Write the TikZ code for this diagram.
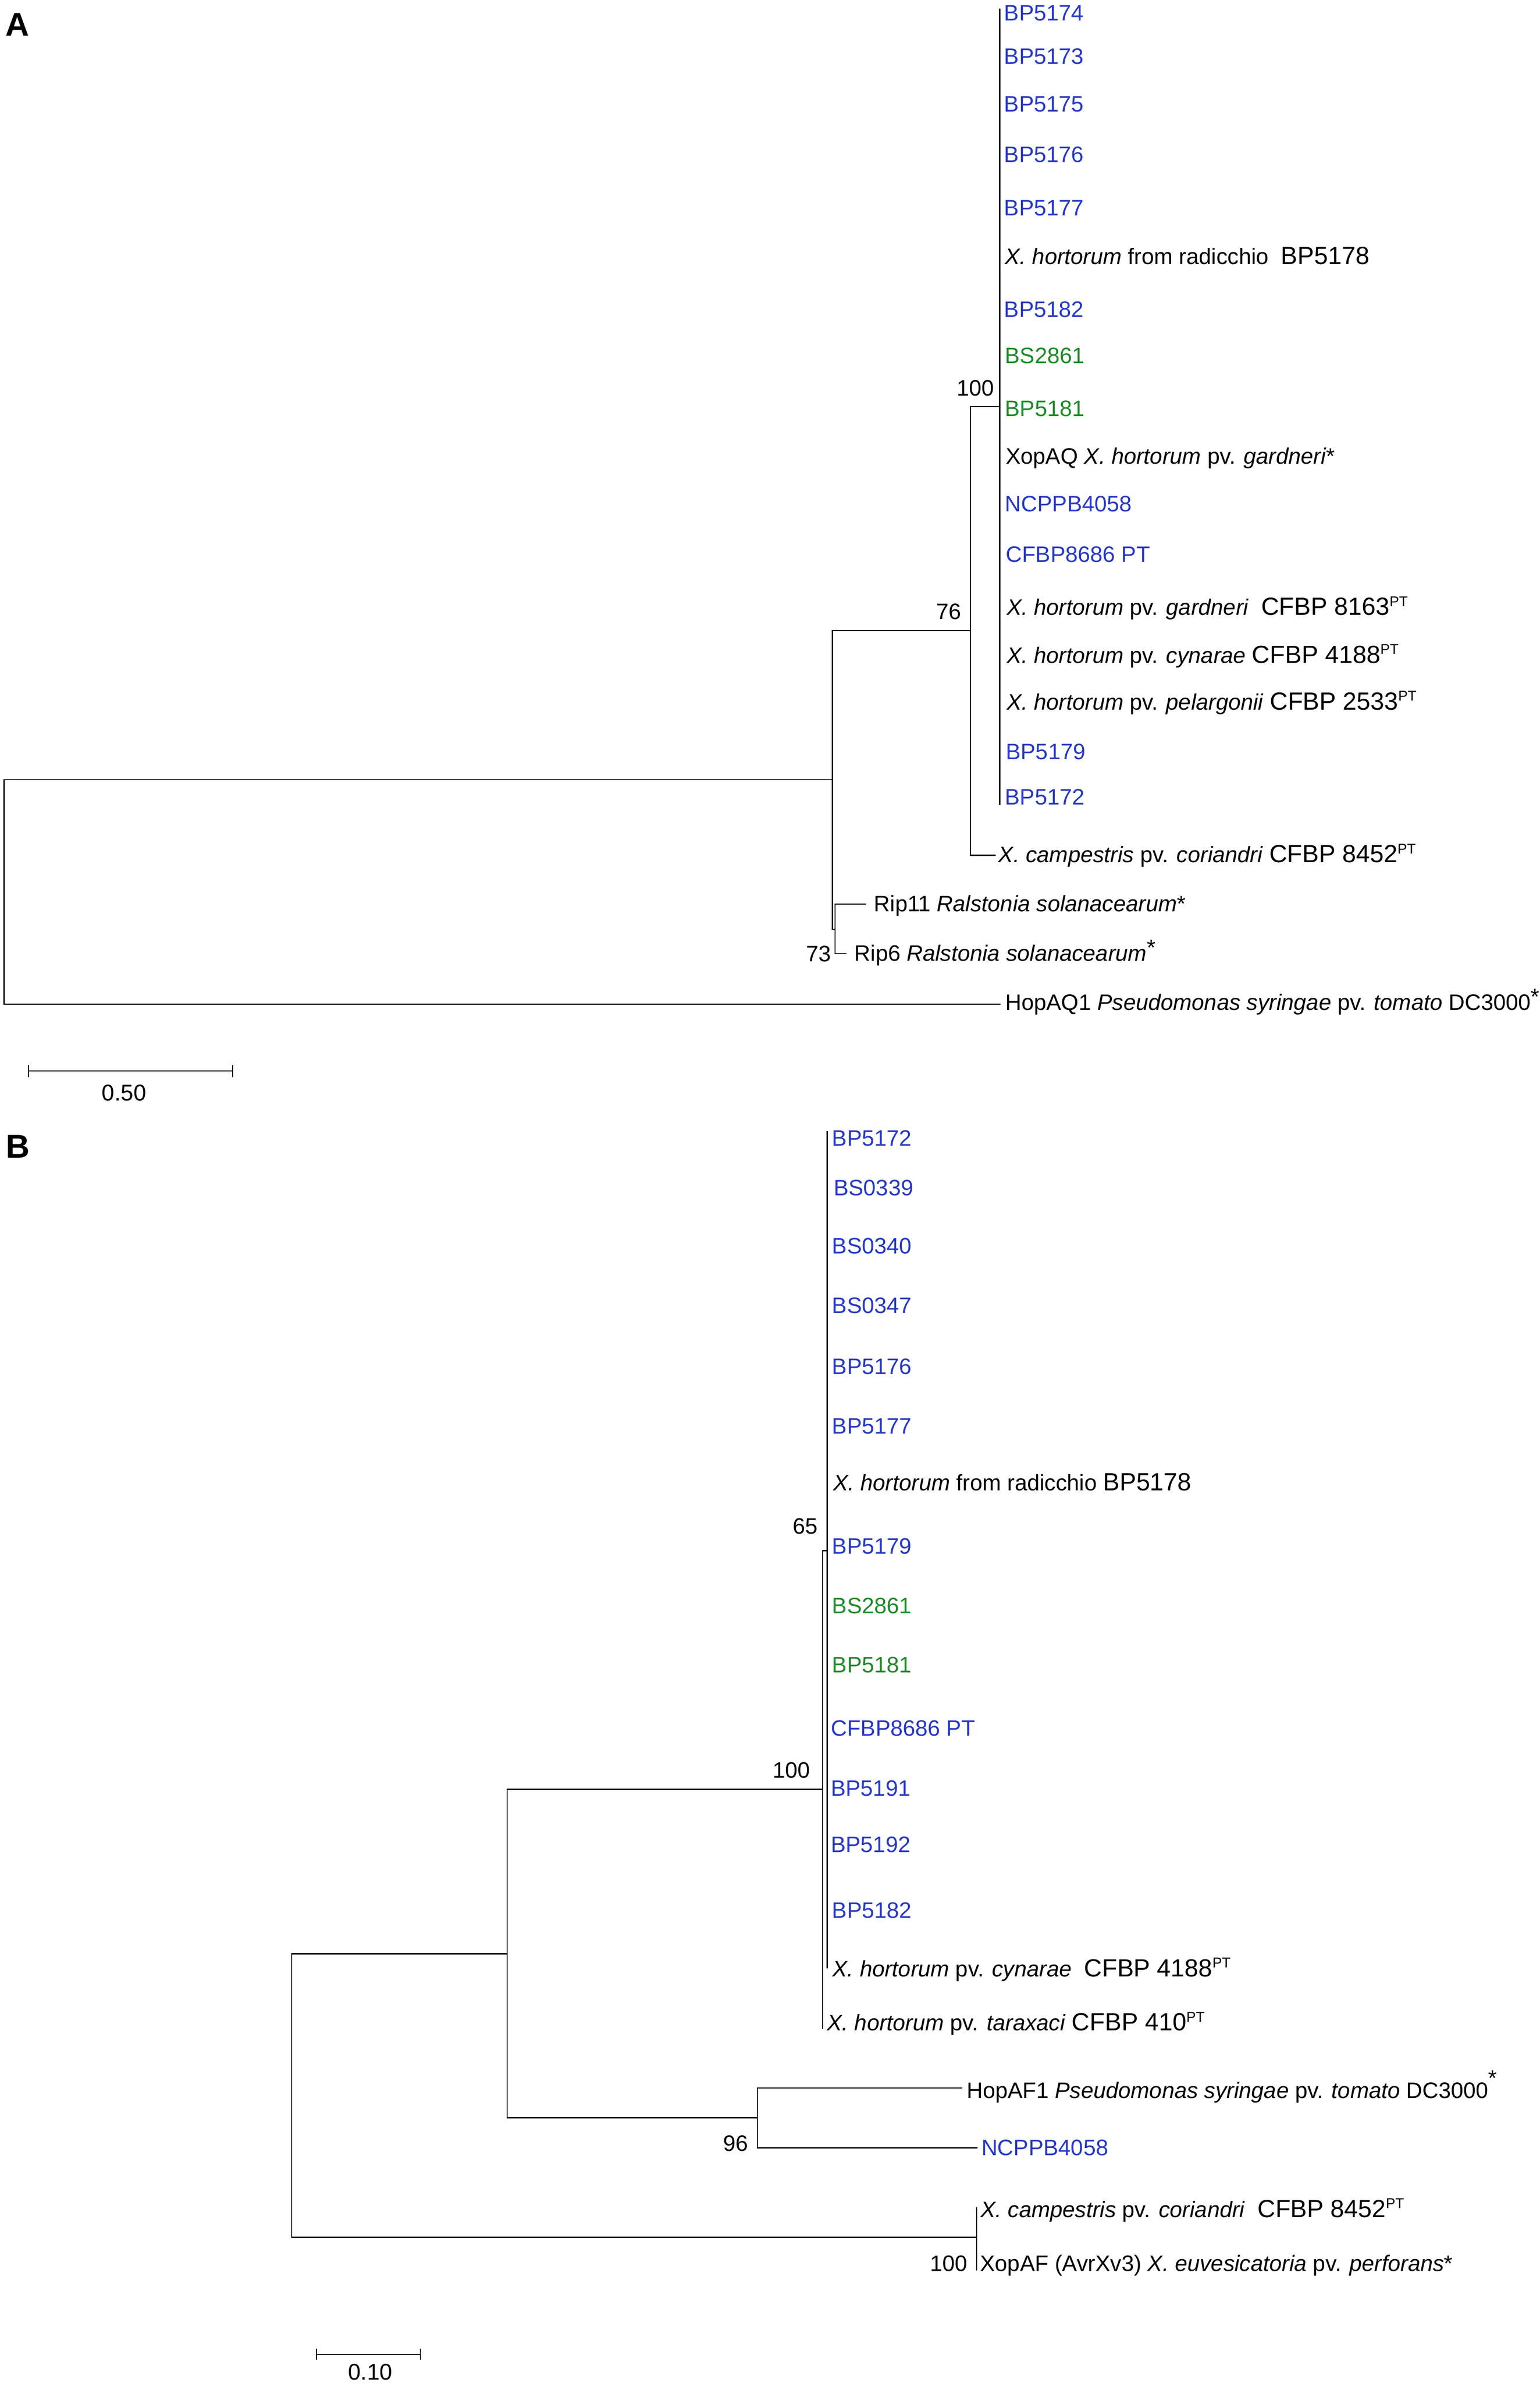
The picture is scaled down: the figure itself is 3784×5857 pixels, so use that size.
\documentclass[tikz,border=0pt]{standalone}
\usepackage{fontspec}
\setmainfont{Liberation Sans}
\definecolor{leafblue}{RGB}{38,56,196}
\definecolor{leafgreen}{RGB}{30,138,40}
\newcommand\leafsize{\fontsize{5.5}{6.2}\selectfont}
\newcommand\idsize{\fontsize{6.1}{7}\selectfont}
\newcommand\psup[1]{\raisebox{0.36em}{\fontsize{3.5}{4}\selectfont #1}}
\newcommand\supast{\raisebox{0.25em}{*}}
\tikzset{
  branch/.style={line width=0.27pt},
  leaf/.style={anchor=base west, inner sep=0pt, font=\leafsize},
  blueleaf/.style={leaf, text=leafblue},
  greenleaf/.style={leaf, text=leafgreen},
  boot/.style={anchor=base east, inner sep=0pt, font=\leafsize},
  panel/.style={inner sep=0pt, font=\fontsize{8.1}{9}\selectfont\bfseries}
}
\begin{document}
\begin{tikzpicture}[x=0.1pt,y=-0.1pt]
\fill[white] (0,0) rectangle (3784,5857);
\useasboundingbox (0,0) rectangle (3784,5857);

% ================= Panel A =================
\node[panel] (labA) at (43,60) {A};

\coordinate (rA) at (10,2192);
\coordinate (nA1) at (2046,1916);
\coordinate (nA76) at (2385,1550);
\coordinate (nA100) at (2457,999);
\coordinate (nArip) at (2052,2284);
\coordinate (tAcamp) at (2447,2102);
\coordinate (tArip11) at (2128,2222);
\coordinate (tArip6) at (2080,2344);
\coordinate (tAhop) at (2459,2468);
\coordinate (cAtop) at (2457,21);
\coordinate (cAbot) at (2457,1978);

\draw[branch] (rA) |- (nA1);
\draw[branch] (rA) |- (tAhop);
\draw[branch] (nA1) |- (nA76);
\draw[branch] (nA1) |- (nArip);
\draw[branch] (nA76) |- (nA100);
\draw[branch] (nA76) |- (tAcamp);
\draw[branch] (nArip) |- (tArip11);
\draw[branch] (nArip) |- (tArip6);
\draw[branch] (cAtop) -- (cAbot);

\node[boot] (bA100) at (2445,973) {100};
\node[boot] (bA76) at (2364,1522) {76};
\node[boot] (bA73) at (2044,2363) {73};

\node[blueleaf] (lA1) at (2466,51) {BP5174};
\node[blueleaf] (lA2) at (2466,157) {BP5173};
\node[blueleaf] (lA3) at (2466,275) {BP5175};
\node[blueleaf] (lA4) at (2466,399) {BP5176};
\node[blueleaf] (lA5) at (2466,530) {BP5177};
\node[leaf] (lA6) at (2468,650) {\textit{X. hortorum} from radicchio\ \ {\idsize BP5178}};
\node[blueleaf] (lA7) at (2466,779) {BP5182};
\node[greenleaf] (lA8) at (2468,893) {BS2861};
\node[greenleaf] (lA9) at (2468,1023) {BP5181};
\node[leaf] (lA10) at (2470,1140) {XopAQ \textit{X. hortorum} pv. \textit{gardneri}*};
\node[blueleaf] (lA11) at (2468,1257) {NCPPB4058};
\node[blueleaf] (lA12) at (2470,1382) {CFBP8686 PT};
\node[leaf] (lA13) at (2472,1512) {\textit{X. hortorum} pv. \textit{gardneri}\ \ {\idsize CFBP 8163\psup{PT}}};
\node[leaf] (lA14) at (2472,1630) {\textit{X. hortorum} pv. \textit{cynarae} {\idsize CFBP 4188\psup{PT}}};
\node[leaf] (lA15) at (2472,1745) {\textit{X. hortorum} pv. \textit{pelargonii} {\idsize CFBP 2533\psup{PT}}};
\node[blueleaf] (lA16) at (2470,1866) {BP5179};
\node[blueleaf] (lA17) at (2468,1978) {BP5172};
\node[leaf] (lA18) at (2452,2120) {\textit{X. campestris} pv. \textit{coriandri} {\idsize CFBP 8452\psup{PT}}};
\node[leaf] (lA19) at (2146,2240) {Rip11 \textit{Ralstonia solanacearum}*};
\node[leaf] (lA20) at (2098,2362) {Rip6 \textit{Ralstonia solanacearum}\supast};
\node[leaf] (lA21) at (2469,2483) {HopAQ1 \textit{Pseudomonas syringae} pv. \textit{tomato} DC3000\supast};

% scale bar A
\coordinate (sA1) at (70,2632);
\coordinate (sA2) at (572,2632);
\draw[branch] (sA1) -- (sA2);
\draw[branch] ([yshift=1.4pt]sA1) -- ([yshift=-1.5pt]sA1);
\draw[branch] ([yshift=1.4pt]sA2) -- ([yshift=-1.5pt]sA2);
\node[inner sep=0pt, anchor=base, font=\fontsize{5.6}{6}\selectfont] (scA) at (305,2705) {0.50};

% ================= Panel B =================
\node[panel] (labB) at (44,2818) {B};

\coordinate (rB) at (717,5150);
\coordinate (nB1) at (1246,4802);
\coordinate (nB100) at (2022,4398);
\coordinate (nB65) at (2033,3811);
\coordinate (nB96) at (1861,5205);
\coordinate (nB2) at (2400,5499);
\coordinate (tBtar) at (2022,4986);
\coordinate (tBhop) at (2365,5132);
\coordinate (tBncp) at (2402,5279);
\coordinate (cBtop) at (2033,2780);
\coordinate (cBbot) at (2033,4838);
\coordinate (cB2top) at (2400,5425);
\coordinate (cB2bot) at (2400,5581);

\draw[branch] (rB) |- (nB1);
\draw[branch] (rB) |- (nB2);
\draw[branch] (nB1) |- (nB100);
\draw[branch] (nB1) |- (nB96);
\draw[branch] (nB100) |- (nB65);
\draw[branch] (nB100) |- (tBtar);
\draw[branch] (nB96) |- (tBhop);
\draw[branch] (nB96) |- (tBncp);
\draw[branch] (cBtop) -- (cBbot);
\draw[branch] (cB2top) -- (cB2bot);

\node[boot] (bB65) at (2012,3770) {65};
\node[boot] (bB100) at (1993,4370) {100};
\node[boot] (bB96) at (1841,5287) {96};
\node[boot] (bB100b) at (2380,5582) {100};

\node[blueleaf] (lB1) at (2043,2816) {BP5172};
\node[blueleaf] (lB2) at (2047,2938) {BS0339};
\node[blueleaf] (lB3) at (2043,3081) {BS0340};
\node[blueleaf] (lB4) at (2043,3228) {BS0347};
\node[blueleaf] (lB5) at (2043,3378) {BP5176};
\node[blueleaf] (lB6) at (2043,3524) {BP5177};
\node[leaf] (lB7) at (2046,3664) {\textit{X. hortorum} from radicchio {\idsize BP5178}};
\node[blueleaf] (lB8) at (2043,3819) {BP5179};
\node[greenleaf] (lB9) at (2043,3966) {BS2861};
\node[greenleaf] (lB10) at (2043,4111) {BP5181};
\node[blueleaf] (lB11) at (2040,4267) {CFBP8686 PT};
\node[blueleaf] (lB12) at (2040,4414) {BP5191};
\node[blueleaf] (lB13) at (2040,4553) {BP5192};
\node[blueleaf] (lB14) at (2043,4714) {BP5182};
\node[leaf] (lB15) at (2044,4858) {\textit{X. hortorum} pv. \textit{cynarae}\ \ {\idsize CFBP 4188\psup{PT}}};
\node[leaf] (lB16) at (2031,4991) {\textit{X. hortorum} pv. \textit{taraxaci} {\idsize CFBP 410\psup{PT}}};
\node[leaf] (lB17) at (2374,5157) {HopAF1 \textit{Pseudomonas syringae} pv. \textit{tomato} DC3000\raisebox{0.55em}{*}};
\node[blueleaf] (lB18) at (2410,5298) {NCPPB4058};
\node[leaf] (lB19) at (2408,5450) {\textit{X. campestris} pv. \textit{coriandri}\ \ {\idsize CFBP 8452\psup{PT}}};
\node[leaf] (lB20) at (2407,5582) {XopAF (AvrXv3) \textit{X. euvesicatoria} pv. \textit{perforans}*};

% scale bar B
\coordinate (sB1) at (778,5787);
\coordinate (sB2) at (1033,5787);
\draw[branch] (sB1) -- (sB2);
\draw[branch] ([yshift=1.4pt]sB1) -- ([yshift=-1.3pt]sB1);
\draw[branch] ([yshift=1.4pt]sB2) -- ([yshift=-1.3pt]sB2);
\node[inner sep=0pt, anchor=base, font=\fontsize{5.6}{6}\selectfont] (scB) at (910,5849) {0.10};

\end{tikzpicture}
\end{document}
